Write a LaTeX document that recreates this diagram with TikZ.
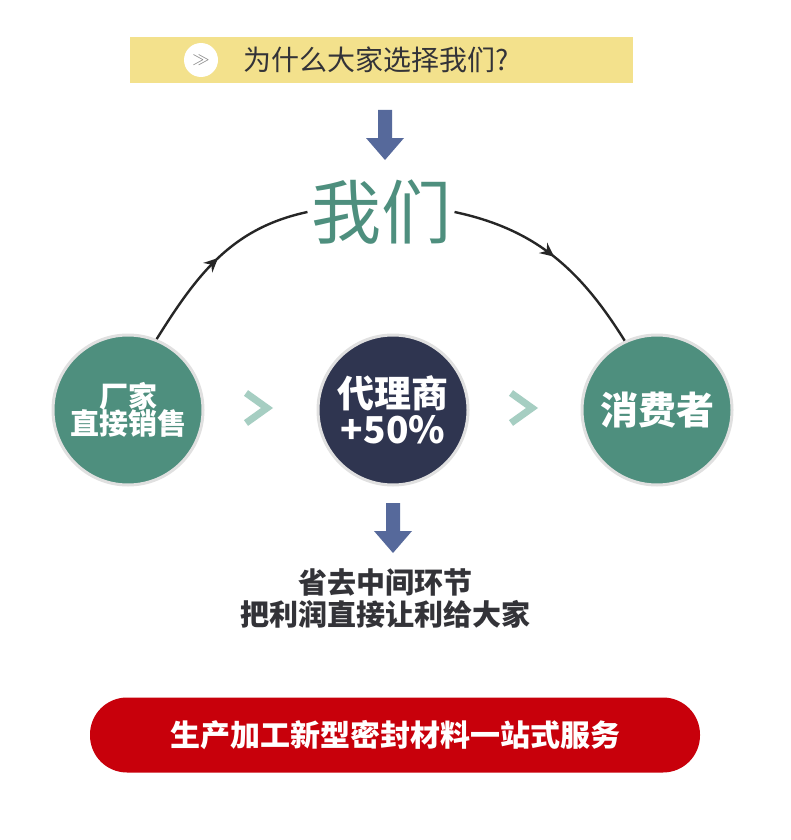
\documentclass[tikz,border=0pt]{standalone}
\usepackage{fontspec}
\setmainfont{Noto Sans CJK SC}
\usetikzlibrary{positioning}
\usetikzlibrary{decorations.markings}
\usetikzlibrary{arrows.meta}
\definecolor{bannerY}{HTML}{F3E18C}
\definecolor{teal}{HTML}{4E8F7E}
\definecolor{navy}{HTML}{2F3550}
\definecolor{arrowB}{HTML}{56699B}
\definecolor{chev}{HTML}{A6CEC2}
\definecolor{redbar}{HTML}{C8000B}
\definecolor{txt}{HTML}{333338}
\tikzstyle{disc}=[circle, minimum size=150pt, inner sep=0pt, draw=black!12, line width=3pt, text=white, font=\bfseries\fontsize{29}{33}\selectfont, align=center]
\tikzstyle{flow}=[line width=2.4pt, draw=black!85, postaction={decorate}, decoration={markings, mark=at position 0.5 with {\arrow{Stealth[length=14pt,width=13pt]}}}]
\tikzstyle{chevron}=[draw=chev, line width=7pt]
\def\downarrow#1#2{\fill[arrowB] (#1-7,#2) -- (#1+7,#2) -- (#1+7,#2+28) -- (#1+19,#2+28) -- (#1,#2+50) -- (#1-19,#2+28) -- (#1-7,#2+28) -- cycle;}
\begin{document}
\begin{tikzpicture}[x=1pt,y=-1pt]
    \useasboundingbox (0,0) rectangle (790,840);
    \fill[white] (0,0) rectangle (790,840);

    % banner
    \fill[bannerY] (130,37) rectangle (633,83);
    \node [circle, fill=white, minimum size=34pt, inner sep=0pt] (ic) at (201,60) {};
    \node [text=gray, font=\fontsize{16}{16}\selectfont] at (ic) {$\gg$};
    \node [text=txt, font=\fontsize{28}{30}\selectfont, anchor=west] (Q) at (240,60) {为什么大家选择我们?};

    \downarrow{385}{110}

    \node [text=teal, font=\fontsize{70}{74}\selectfont] (W) at (381,212) {我们};

    % circles
    \node [disc, fill=teal] (L) at (128,410) {厂家\\[-6pt]直接销售};
    \node [disc, fill=navy, font=\bfseries\fontsize{37}{40}\selectfont] (M) at (393,410) {代理商\\[-4pt]+50\%};
    \node [disc, fill=teal, font=\bfseries\fontsize{38}{40}\selectfont] (R) at (657,410) {消费者};

    \draw [flow] (L.68) to [out=58,in=192] (W.west);
    \draw [flow] (W.east) to [out=-12,in=122] (R.115);

    \draw [chevron] (246,393) -- (267,408) -- (246,423);
    \draw [chevron] (511,393) -- (532,408) -- (511,423);

    \downarrow{393}{503}

    \node [text=txt, font=\bfseries\fontsize{29}{32}\selectfont, align=center] (S) at (385,598) {省去中间环节\\把利润直接让利给大家};

    \node [fill=redbar, rounded corners=37pt, minimum width=610pt, minimum height=75pt, text=white, font=\bfseries\fontsize{30}{32}\selectfont] (B) at (395,735) {生产加工新型密封材料一站式服务};
\end{tikzpicture}
\end{document}
